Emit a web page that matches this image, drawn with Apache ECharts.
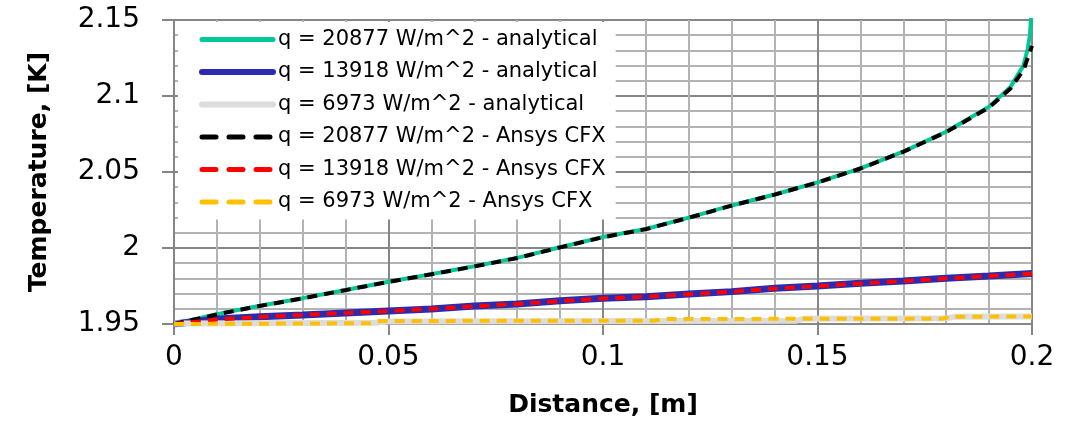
<!DOCTYPE html>
<html><head><meta charset="utf-8">
<script src="https://cdn.jsdelivr.net/npm/echarts@6/dist/echarts.min.js"></script>
<style>html,body{margin:0;padding:0;background:#fff}#c{width:1069px;height:425px}</style>
</head><body><div id="c"></div>
<script>
const xTickLabels = ['0','0.05','0.1','0.15','0.2'];
const yTickLabels = ['1.95','2','2.05','2.1','2.15'];
const seriesNames = [
  'q = 20877 W/m^2 - analytical',
  'q = 13918 W/m^2 - analytical',
  'q = 6973 W/m^2 - analytical',
  'q = 20877 W/m^2 - Ansys CFX',
  'q = 13918 W/m^2 - Ansys CFX',
  'q = 6973 W/m^2 - Ansys CFX'
];
const xHigh = [0,0.01,0.02,0.03,0.04,0.05,0.06,0.07,0.08,0.09,0.1,0.11,0.12,0.13,0.14,0.15,0.16,0.17,0.18,0.19,0.195,0.198,0.199,0.1995,0.2];
const tHighAnalytical = [1.950,1.9565,1.962,1.967,1.9724,1.9778,1.9828,1.988,1.9935,2.0005,2.0072,2.0125,2.02,2.028,2.0352,2.0432,2.0524,2.0634,2.0765,2.093,2.106,2.12,2.131,2.14,2.16];
const tHighCFX = [1.950,1.9563,1.9619,1.9669,1.9723,1.9777,1.9827,1.9879,1.9934,2.0004,2.0071,2.0124,2.0199,2.0279,2.0351,2.0431,2.0523,2.0633,2.0763,2.0925,2.105,2.117,2.125,2.129,2.133];
const xMid = [0,0.01,0.02,0.03,0.04,0.05,0.06,0.07,0.08,0.09,0.1,0.11,0.12,0.13,0.14,0.15,0.16,0.17,0.18,0.19,0.2];
const tMidAnalytical = [1.950,1.9533,1.9548,1.956,1.9573,1.9586,1.9599,1.9618,1.9632,1.9653,1.9669,1.968,1.9697,1.9713,1.9735,1.975,1.9768,1.9783,1.9801,1.9816,1.9833];
const tMidCFX = [1.950,1.953,1.9546,1.956,1.9572,1.9585,1.96,1.9616,1.9632,1.9651,1.9668,1.968,1.9696,1.9712,1.9733,1.9749,1.9767,1.9782,1.98,1.9815,1.983];
const xLowAnalytical = [0,0.047,0.05,0.145,0.147,0.18,0.182,0.2];
const tLowAnalytical = [1.9503,1.9508,1.9516,1.9522,1.9535,1.9538,1.9547,1.9549];
const xLowCFX = [0,0.046,0.048,0.112,0.114,0.179,0.181,0.2];
const tLowCFX = [1.950,1.9505,1.952,1.9522,1.9533,1.9535,1.9548,1.9549];

const pairs = (xs, ys) => xs.map((x, i) => [x, ys[i]]);
const FONT = 'DejaVu Sans';
const chart = echarts.init(document.getElementById('c'), null, {renderer: 'canvas'});

const colors = ['#00c896', '#2b2bb2', '#dcdcdc', '#000000', '#ff0000', '#ffc000'];
const widths = [4, 7, 6, 4, 4, 4];
const dashedFlags = [false, false, false, true, true, true];
const legendWidths = [5, 6, 6, 5, 5, 5];

function lineSeries(i, xs, ys) {
  return {
    name: seriesNames[i], type: 'line', data: pairs(xs, ys), symbol: 'none', smooth: false,
    clip: true, animation: false,
    lineStyle: {color: colors[i], width: widths[i], type: dashedFlags[i] ? [10, 7] : 'solid'},
    itemStyle: {color: colors[i]}
  };
}

chart.setOption({
  animation: false,
  backgroundColor: '#fff',
  grid: {left: 174, right: 37, top: 20, bottom: 101, containLabel: false},
  xAxis: {
    type: 'value', min: 0, max: 0.2, interval: 0.05,
    name: 'Distance, [m]', nameLocation: 'middle', nameGap: 69,
    nameTextStyle: {fontFamily: FONT, fontWeight: 'bold', fontSize: 25, color: '#000'},
    axisLine: {show: true, lineStyle: {color: '#868686', width: 2}},
    axisTick: {show: true, inside: false, length: 11, lineStyle: {color: '#868686', width: 2}},
    minorTick: {show: false, splitNumber: 5},
    splitLine: {show: true, lineStyle: {color: '#868686', width: 2}},
    minorSplitLine: {show: true, lineStyle: {color: '#b3b3b3', width: 2}},
    axisLabel: {fontFamily: FONT, fontSize: 28, color: '#000', margin: 20,
      formatter: (v) => xTickLabels[Math.round(v / 0.05)] ?? ''}
  },
  yAxis: {
    type: 'value', min: 1.95, max: 2.15, interval: 0.05,
    name: 'Temperature, [K]', nameLocation: 'middle', nameGap: 122, nameRotate: 90,
    nameTextStyle: {fontFamily: FONT, fontWeight: 'bold', fontSize: 25, color: '#000'},
    axisLine: {show: true, lineStyle: {color: '#868686', width: 2}},
    axisTick: {show: true, inside: false, length: 12, lineStyle: {color: '#868686', width: 2}},
    minorTick: {show: false, splitNumber: 5},
    splitLine: {show: true, lineStyle: {color: '#868686', width: 2}},
    minorSplitLine: {show: true, lineStyle: {color: '#b3b3b3', width: 2}},
    axisLabel: {fontFamily: FONT, fontSize: 28, color: '#000', margin: 34,
      formatter: (v) => yTickLabels[Math.round((v - 1.95) / 0.05)] ?? ''}
  },
  legend: {
    show: true, orient: 'vertical', left: 178, top: 22,
    padding: [7, 10, 7, 21], itemGap: 11.5, itemWidth: 71, itemHeight: 14,
    backgroundColor: '#fff', borderWidth: 0,
    itemStyle: {opacity: 0, borderWidth: 0},
    textStyle: {fontFamily: FONT, fontSize: 21, color: '#000', width: 358},
    data: seriesNames.map((n, i) => ({
      name: n,
      itemStyle: {opacity: 0, borderWidth: 0},
      lineStyle: {color: colors[i], width: legendWidths[i], type: dashedFlags[i] ? [14, 13] : 'solid', cap: 'round', opacity: 1}
    }))
  },
  series: [
    lineSeries(0, xHigh, tHighAnalytical),
    lineSeries(1, xMid, tMidAnalytical),
    lineSeries(2, xLowAnalytical, tLowAnalytical),
    lineSeries(3, xHigh, tHighCFX),
    lineSeries(4, xMid, tMidCFX),
    lineSeries(5, xLowCFX, tLowCFX)
  ]
});
</script></body></html>
